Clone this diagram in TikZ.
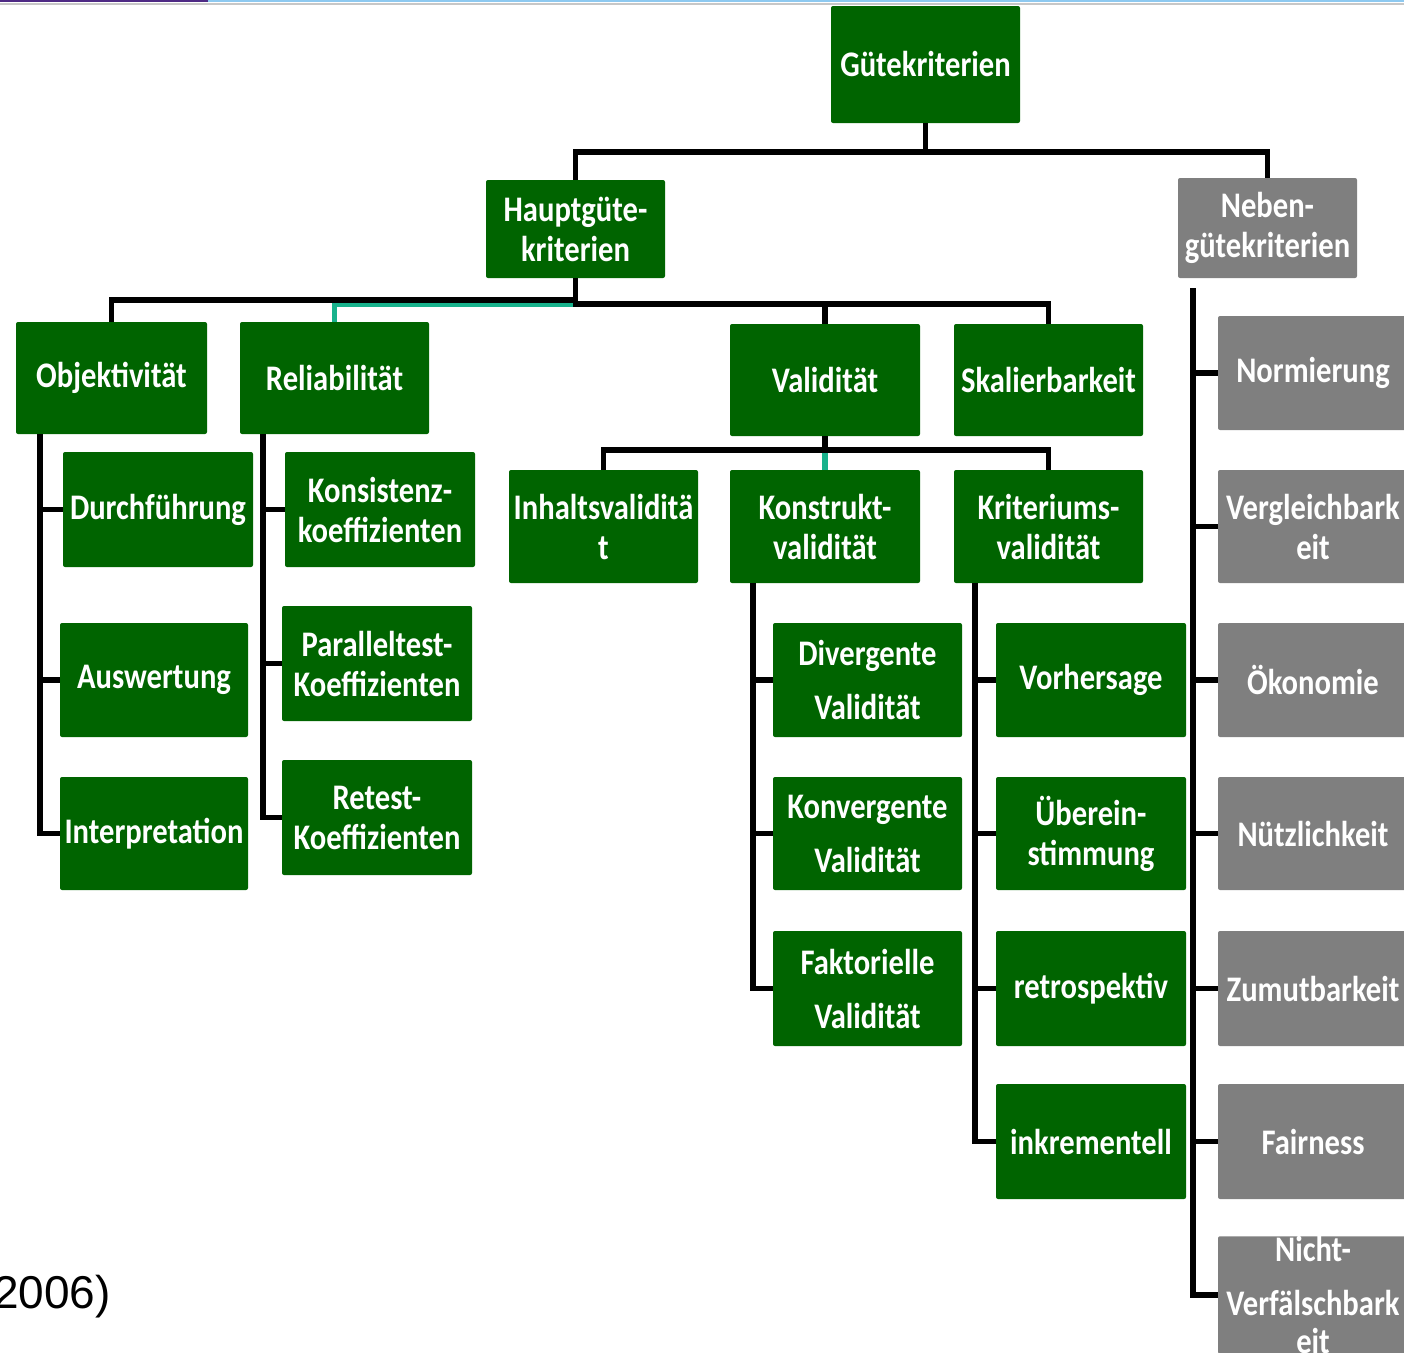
\documentclass[tikz,border=0pt]{standalone}
\usepackage{fontspec}
\setmainfont{Liberation Sans}
\newfontfamily\boxfont{Carlito}[UprightFont={* Bold},FakeStretch=0.85]
\definecolor{kgreen}{RGB}{0,100,0}
\definecolor{kgray}{RGB}{127,127,127}
\definecolor{kteal}{RGB}{24,178,140}
\definecolor{kpurple}{RGB}{78,42,132}
\definecolor{kblue}{RGB}{142,201,240}

\tikzset{
  gbox/.style={fill=kgreen,text=white,rounded corners=2pt,inner sep=0pt,align=center,
    minimum width=190pt,minimum height=114pt,font={\boxfont\fontsize{36}{40}\selectfont}},
  nbox/.style={gbox,fill=kgray},
  conn/.style={line width=5.5pt,black},
}

\begin{document}
\begin{tikzpicture}[x=1pt,y=-1pt]
    \useasboundingbox (0,0) rectangle (1404,1352);
    \clip (0,0) rectangle (1404,1352);
    % slide border lines
    \fill[kpurple] (0,0) rectangle (208,1.5);
    \fill[kblue] (208,0) rectangle (1404,1.5);
    \fill[black!22] (0,3) rectangle (1404,4.5);

    % top levels
    \node[gbox,minimum width=189pt,minimum height=117pt] (guete) at (925.5,64.5) {Gütekriterien};
    \node[gbox,minimum width=179pt,minimum height=98pt] (haupt) at (575.5,229) {Hauptgüte-\\kriterien};
    \node[nbox,minimum width=179pt,minimum height=100pt] (neben) at (1267.5,228) {Neben-\\gütekriterien};

    \node[gbox,minimum width=191pt,minimum height=112pt] (objekt) at (111.5,378) {Objektivität};
    \node[gbox,minimum width=189pt,minimum height=112pt] (relia) at (334.5,378) {Reliabilität};
    \node[gbox,minimum height=112pt] (valid) at (825,380) {Validität};
    \node[gbox,minimum width=189pt,minimum height=112pt] (skal) at (1048.5,380) {Skalierbarkeit};

    \node[gbox,minimum width=189pt,minimum height=113pt] (inhalt) at (603.5,526.5) {Inhaltsvaliditä\\t};
    \node[gbox,minimum height=113pt] (konstr) at (825,526.5) {Konstrukt-\\validität};
    \node[gbox,minimum width=189pt,minimum height=113pt] (krit) at (1048.5,526.5) {Kriteriums-\\validität};

    % Objektivitaet
    \node[gbox,minimum height=115pt] (durch) at (158,509.5) {Durchführung};
    \node[gbox,minimum width=188pt] (ausw) at (154,680) {Auswertung};
    \node[gbox,minimum width=188pt,minimum height=113pt] (interp) at (154,833.5) {Interpretation};

    % Reliabilitaet
    \node[gbox,minimum height=115pt] (konsist) at (380,509.5) {Konsistenz-\\koeffizienten};
    \node[gbox,minimum height=115pt] (parall) at (377,663.5) {Paralleltest-\\Koeffizienten};
    \node[gbox,minimum height=115pt] (retest) at (377,817.5) {Retest-\\Koeffizienten};

    % Konstruktvaliditaet
    \node[gbox,minimum width=189pt] (diverg) at (867.5,680) {Divergente\\[14pt]Validität};
    \node[gbox,minimum width=189pt,minimum height=113pt] (konverg) at (867.5,833.5) {Konvergente\\[14pt]Validität};
    \node[gbox,minimum width=189pt,minimum height=115pt] (faktor) at (867.5,988.5) {Faktorielle\\[14pt]Validität};

    % Kriteriumsvaliditaet
    \node[gbox] (vorhers) at (1091,680) {Vorhersage};
    \node[gbox,minimum height=113pt] (uebere) at (1091,833.5) {Überein-\\stimmung};
    \node[gbox,minimum height=115pt] (retro) at (1091,988.5) {retrospektiv};
    \node[gbox,minimum height=115pt] (inkr) at (1091,1141.5) {inkrementell};

    % Nebenguetekriterien
    \node[nbox] (normier) at (1313,373) {Normierung};
    \node[nbox,minimum height=113pt] (vergl) at (1313,526.5) {Vergleichbark\\eit};
    \node[nbox] (oekon) at (1313,680) {Ökonomie};
    \node[nbox,minimum height=113pt] (nuetz) at (1313,833.5) {Nützlichkeit};
    \node[nbox,minimum height=115pt] (zumut) at (1313,988.5) {Zumutbarkeit};
    \node[nbox,minimum height=115pt] (fair) at (1313,1141.5) {Fairness};
    \node[nbox] (nicht) at (1313,1295) {Nicht-\\[14pt]Verfälschbark\\[-2pt]eit};

    \node[anchor=base east,font=\fontsize{46}{50}\selectfont,inner sep=0pt] (quelle) at (111,1308) {2006)};

    % connectors
    \draw[conn] (guete.south) -- ++(0,29) -| (haupt.north);
    \draw[conn] (guete.south) -- ++(0,29) -| (neben.north);

    \draw[conn,kteal] (haupt.south) -- ++(0,26) -| (relia.north);
    \draw[conn] (haupt.south) -- ++(0,22) -| (objekt.north);
    \foreach \c in {valid,skal}
      \draw[conn] (haupt.south) -- ++(0,26) -| (\c.north);

    \draw[conn,kteal] (valid.south) -- ++(0,14) -| (konstr.north);
    \foreach \c in {inhalt,krit}
      \draw[conn] (valid.south) -- ++(0,14) -| (\c.north);

    \foreach \c in {durch,ausw,interp}
      \draw[conn] ([xshift=24pt]objekt.south west) |- (\c.west);
    \foreach \c in {konsist,parall,retest}
      \draw[conn] ([xshift=23pt]relia.south west) |- (\c.west);
    \foreach \c in {diverg,konverg,faktor}
      \draw[conn] ([xshift=23pt]konstr.south west) |- (\c.west);
    \foreach \c in {vorhers,uebere,retro,inkr}
      \draw[conn] ([xshift=21pt]krit.south west) |- (\c.west);
    \foreach \c in {normier,vergl,oekon,nuetz,zumut,fair,nicht}
      \draw[conn] ([shift={(15pt,-10pt)}]neben.south west) |- (\c.west);
  \end{tikzpicture}
\end{document}
